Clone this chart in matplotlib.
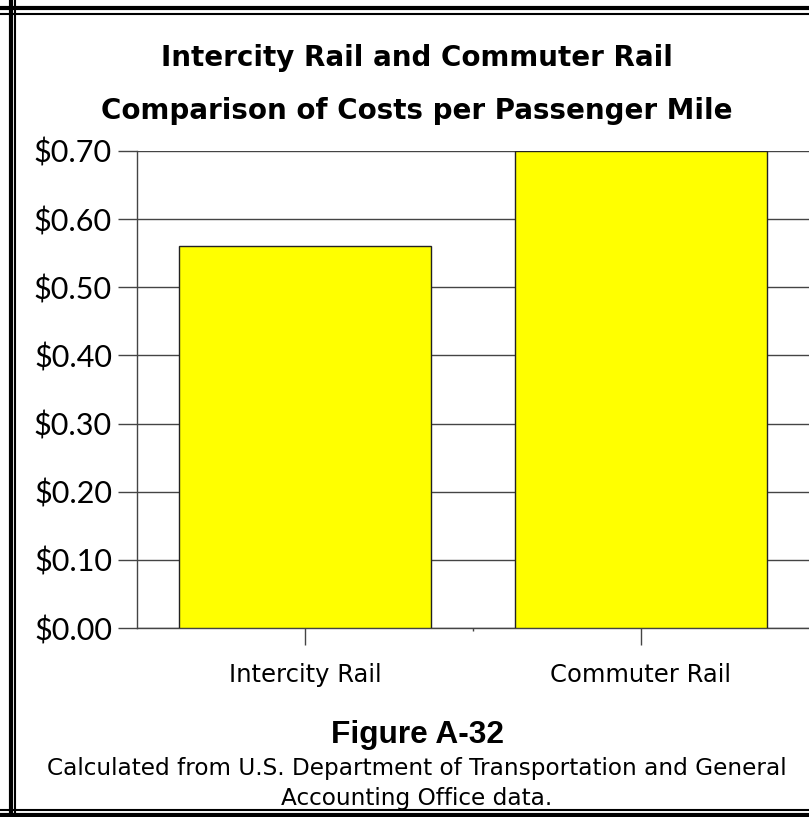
import matplotlib
matplotlib.use("Agg")
import matplotlib.pyplot as plt
from matplotlib import font_manager
from matplotlib.lines import Line2D
from matplotlib.ticker import FuncFormatter, FixedLocator

categories = ["Intercity Rail", "Commuter Rail"]
costs = [0.56, 0.70]
y_ticks = [0.0, 0.1, 0.2, 0.3, 0.4, 0.5, 0.6, 0.7]

W, H = 809, 817
FONT = ["Lato", "DejaVu Sans"]
WIDE = ["DejaVu Sans"]

# Arial-like bold for the figure number (avoid the Narrow variant)
arial_bold = [f for f in font_manager.findSystemFonts() if f.endswith("LiberationSans-Bold.ttf")]
if arial_bold:
    fig_num_font = font_manager.FontProperties(fname=arial_bold[0], size=22.8)
else:
    fig_num_font = font_manager.FontProperties(family="DejaVu Sans", weight="bold", size=20)

fig = plt.figure(figsize=(W/100, H/100), dpi=100, facecolor="white")
ax = fig.add_axes([137/W, (H-628)/H, (W-137)/W, (628-151)/H])

x = range(len(categories))
ax.bar(x, costs, width=0.75, color="#FFFF00", edgecolor="#222222", linewidth=1.0, zorder=3)
ax.set_xlim(-0.5, 1.5); ax.set_ylim(0, 0.70)
ax.set_yticks(y_ticks)
ax.yaxis.set_major_formatter(FuncFormatter(lambda v, p: f"${v:.2f}"))
ax.grid(True, axis="y", color="#444444", linewidth=1.0, zorder=1)
ax.set_xticks(list(x)); ax.set_xticklabels(categories, fontsize=17.5, family=WIDE)
ax.xaxis.set_minor_locator(FixedLocator([0.5]))
ax.tick_params(axis="x", which="major", length=12, width=1, color="#444444", pad=13)
ax.tick_params(axis="x", which="minor", length=2, width=1, color="#444444")
ax.tick_params(axis="y", length=14, width=1, color="#444444", pad=4, labelsize=22)
for lbl in ax.get_yticklabels(): lbl.set_family(FONT)
for s in ["top", "right"]: ax.spines[s].set_visible(False)
for s in ["left", "bottom"]:
    ax.spines[s].set_color("#444444"); ax.spines[s].set_linewidth(1.0)

fig.text(417/W, 1-58/H, "Intercity Rail and Commuter Rail", ha="center", va="center",
         fontsize=20, fontweight="bold", family=WIDE)
fig.text(417/W, 1-111/H, "Comparison of Costs per Passenger Mile", ha="center", va="center",
         fontsize=20, fontweight="bold", family=WIDE)
fig.text(417/W, 1-735/H, "Figure A-32", ha="center", va="center", fontproperties=fig_num_font)
fig.text(417/W, 1-769/H, "Calculated from U.S. Department of Transportation and General",
         ha="center", va="center", fontsize=16.7, family=WIDE)
fig.text(417/W, 1-798/H, "Accounting Office data.", ha="center", va="center",
         fontsize=16.7, family=WIDE)

# double border frame
def hl(y, lw): fig.add_artist(Line2D([0, 1], [1-y/H, 1-y/H], color="black", lw=lw, transform=fig.transFigure))
def vl(x0, lw): fig.add_artist(Line2D([x0/W, x0/W], [0, 1], color="black", lw=lw, transform=fig.transFigure))
hl(8, 3); hl(13.5, 1.5); hl(815, 3); hl(810, 1.5)
vl(11, 3); vl(15.5, 1.5)

fig.savefig("out.png", dpi=100, facecolor="white")
